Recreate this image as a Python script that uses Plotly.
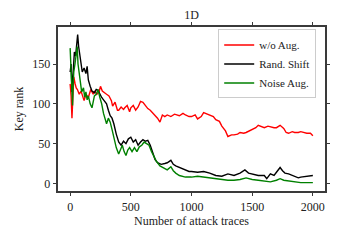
import plotly.graph_objects as go

# --- data ---
red_x = [0, 8, 15, 22, 30, 40, 50, 60, 75, 90, 100, 115, 130, 150, 170, 190, 200, 220, 240, 250, 265, 280, 300, 320, 340, 350, 370, 390, 400, 420, 440, 450, 470, 490, 500, 520, 540, 560, 580, 600, 620, 640, 660, 680, 700, 720, 740, 760, 780, 800, 830, 860, 900, 930, 950, 980, 1000, 1030, 1050, 1080, 1100, 1120, 1150, 1180, 1200, 1230, 1250, 1280, 1300, 1330, 1350, 1380, 1400, 1430, 1450, 1480, 1500, 1530, 1550, 1580, 1600, 1630, 1650, 1680, 1700, 1730, 1760, 1780, 1800, 1830, 1850, 1880, 1900, 1930, 1950, 1980, 2000]
red_y = [125, 110, 82, 118, 134, 126, 120, 118, 112, 116, 110, 104, 112, 108, 118, 112, 116, 112, 116, 122, 116, 114, 112, 110, 104, 97, 102, 92, 92, 96, 93, 95, 98, 90, 95, 98, 92, 96, 103, 102, 98, 94, 92, 89, 85, 82, 77, 86, 84, 86, 84, 87, 85, 88, 86, 84, 84, 86, 81, 84, 89, 88, 86, 84, 80, 78, 72, 66, 59, 61, 61, 62, 64, 63, 64, 66, 68, 70, 73, 71, 70, 72, 71, 70, 70, 73, 69, 64, 63, 65, 64, 64, 65, 64, 63, 63, 60]

black_x = [0, 8, 15, 25, 35, 45, 55, 62, 70, 80, 90, 100, 115, 130, 140, 150, 165, 180, 200, 215, 230, 245, 260, 280, 300, 315, 330, 345, 360, 380, 400, 420, 440, 460, 480, 500, 520, 540, 560, 580, 600, 620, 640, 660, 680, 700, 720, 750, 780, 800, 830, 850, 870, 900, 930, 950, 980, 1000, 1050, 1100, 1150, 1200, 1250, 1300, 1350, 1400, 1440, 1470, 1500, 1550, 1600, 1620, 1650, 1680, 1700, 1730, 1750, 1770, 1800, 1850, 1880, 1900, 1950, 2000]
black_y = [140, 150, 115, 150, 165, 160, 182, 187, 172, 160, 150, 140, 145, 138, 147, 130, 122, 116, 114, 118, 117, 112, 108, 104, 100, 92, 85, 82, 75, 62, 52, 48, 53, 50, 56, 58, 52, 55, 48, 52, 55, 53, 54, 48, 40, 30, 26, 24, 25, 26, 29, 24, 22, 20, 18, 17, 15, 15, 14, 15, 13, 10, 9, 12, 10, 13, 17, 13, 12, 10, 10, 6, 12, 10, 14, 20, 16, 13, 12, 9, 7, 8, 9, 10]

green_x = [0, 5, 10, 15, 20, 25, 30, 40, 50, 58, 65, 75, 85, 95, 110, 120, 130, 140, 150, 165, 180, 190, 200, 215, 230, 245, 260, 275, 290, 300, 315, 330, 345, 360, 380, 400, 415, 430, 445, 460, 475, 490, 510, 530, 550, 570, 590, 610, 630, 650, 670, 690, 710, 740, 770, 800, 830, 850, 870, 900, 950, 1000, 1050, 1100, 1150, 1200, 1250, 1300, 1350, 1400, 1450, 1500, 1550, 1600, 1650, 1700, 1730, 1760, 1800, 1850, 1900, 1950, 2000]
green_y = [170, 150, 128, 110, 98, 125, 140, 150, 168, 172, 150, 140, 128, 115, 120, 108, 115, 105, 110, 100, 95, 105, 110, 112, 118, 108, 100, 88, 80, 75, 82, 77, 68, 58, 45, 37, 42, 48, 40, 35, 42, 45, 40, 45, 40, 46, 48, 52, 50, 48, 40, 33, 28, 22, 20, 17, 21, 16, 13, 10, 8, 8, 9, 8, 7, 6, 5, 4, 4, 5, 7, 5, 4, 3, 2, 4, 6, 4, 3, 2, 1, 1, 1]

x_ticks = [0, 500, 1000, 1500, 2000]
y_ticks = [0, 50, 100, 150]

FONT = "Liberation Serif"
TXT = "#222222"
FRAME = "#3a3a3a"

fig = go.Figure()
fig.add_trace(go.Scatter(x=red_x, y=red_y, mode="lines", name="w/o Aug.",
                         line=dict(color="#ff0000", width=1.4)))
fig.add_trace(go.Scatter(x=black_x, y=black_y, mode="lines", name="Rand. Shift",
                         line=dict(color="#000000", width=1.4)))
fig.add_trace(go.Scatter(x=green_x, y=green_y, mode="lines", name="Noise Aug.",
                         line=dict(color="#008000", width=1.4)))

axis_common = dict(showgrid=False, zeroline=False, showline=True, mirror="ticks",
                   linecolor=FRAME, linewidth=1.6, ticks="outside", ticklen=3.5,
                   tickwidth=1.2, tickcolor=FRAME, automargin=False,
                   tickfont=dict(family=FONT, size=12, color=TXT))

fig.update_layout(
    template="none",
    width=340, height=240,
    margin=dict(l=58, r=15, t=27, b=49),
    paper_bgcolor="white", plot_bgcolor="white",
    title=dict(text="1D", x=0.5635, xanchor="center", y=0.94, yanchor="middle",
               font=dict(family=FONT, size=12, color=TXT)),
    xaxis=dict(range=[-100, 2100], tickvals=x_ticks,
               title=dict(text="Number of attack traces", standoff=4,
                          font=dict(family=FONT, size=12, color=TXT)),
               **axis_common),
    yaxis=dict(range=[-9.5, 196.5], tickvals=y_ticks,
               title=dict(text="Key rank", standoff=6,
                          font=dict(family=FONT, size=12, color=TXT)),
               **axis_common),
    legend=dict(x=0.6, y=0.985, xanchor="left", yanchor="top",
                bgcolor="white", bordercolor="#cccccc", borderwidth=1,
                font=dict(family=FONT, size=11, color=TXT)),
    showlegend=True,
)

fig.write_html("out.html", config={"displayModeBar": False},
               post_script="document.body.style.margin='0';document.body.style.padding='0';")
